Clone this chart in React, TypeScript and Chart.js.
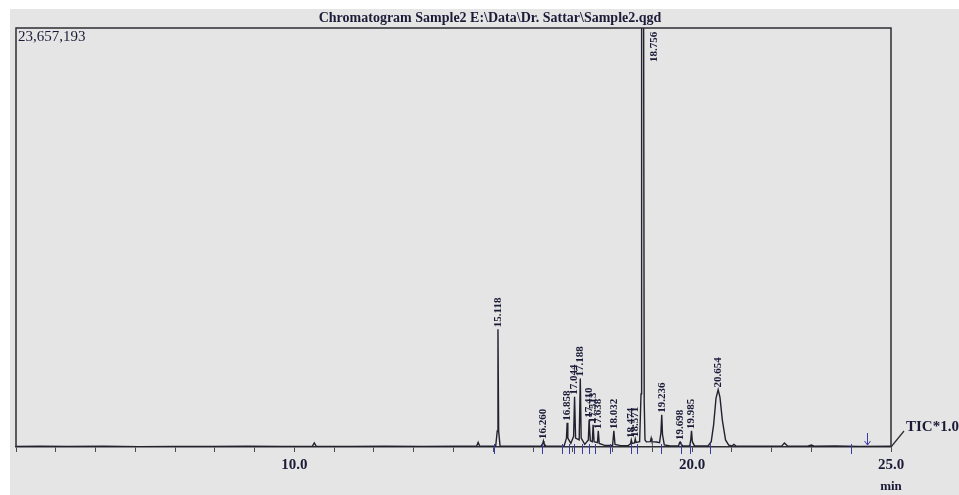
import React, { useEffect, useRef } from "react";
import { Chart, registerables } from "chart.js";

Chart.register(...registerables);

const FULL_SCALE = 23657193;
const TITLE = "Chromatogram Sample2 E:\\Data\\Dr. Sattar\\Sample2.qgd";
const SCALE_LABEL = "23,657,193";
const TRACE_NAME = "TIC*1.00";
const X_UNIT = "min";

// retention time (min) of each point of the TIC trace
const traceTimes = [
  3.0, 3.6, 4.3, 5.2, 6.1, 7.0, 7.9, 8.8, 9.7, 10.45, 10.5, 10.55, 11.4, 12.3, 13.2, 14.1,
  14.58, 14.62, 14.66, 15.06, 15.1, 15.118, 15.135, 15.17, 15.6, 16.2, 16.245, 16.26, 16.275,
  16.32, 16.78, 16.84, 16.858, 16.875, 16.95, 17.02, 17.044, 17.07, 17.16, 17.188, 17.21,
  17.3, 17.39, 17.41, 17.44, 17.49, 17.51, 17.535, 17.62, 17.64, 17.665, 17.8, 18.0, 18.032,
  18.06, 18.2, 18.4, 18.45, 18.47, 18.49, 18.55, 18.57, 18.59, 18.68, 18.715, 18.73, 18.756,
  18.78, 18.795, 18.815, 18.85, 18.95, 18.97, 18.99, 19.1, 19.18, 19.215, 19.236, 19.255, 19.3,
  19.45, 19.66, 19.685, 19.698, 19.715, 19.76, 19.94, 19.965, 19.985, 20.005, 20.06, 20.4,
  20.48, 20.54, 20.6, 20.654, 20.7, 20.76, 20.84, 20.92, 21.0, 21.05, 21.1, 21.8, 22.25,
  22.32, 22.4, 22.9, 23.0, 23.08, 23.6, 24.2, 25.0,
];

// TIC intensity (counts) at each point above
const traceCounts = [
  30000, 45000, 25000, 40000, 20000, 35000, 25000, 40000, 30000, 35000, 230000, 40000, 30000,
  45000, 30000, 40000, 40000, 260000, 45000, 45000, 900000, 6650000, 900000, 60000, 45000,
  45000, 200000, 340000, 200000, 50000, 60000, 500000, 1365000, 500000, 200000, 600000,
  2840000, 500000, 400000, 3870000, 500000, 150000, 400000, 1535000, 350000, 300000, 1250000,
  300000, 250000, 910000, 200000, 90000, 100000, 910000, 150000, 80000, 90000, 180000, 398000,
  200000, 230000, 455000, 260000, 300000, 3000000, 24500000, 24800000, 24500000, 2500000,
  400000, 290000, 300000, 500000, 300000, 280000, 250000, 800000, 1820000, 700000, 120000,
  60000, 70000, 250000, 284000, 200000, 60000, 70000, 400000, 910000, 300000, 60000, 60000,
  300000, 1250000, 2750000, 3240000, 2800000, 1500000, 400000, 110000, 60000, 150000, 50000,
  45000, 50000, 220000, 50000, 45000, 110000, 40000, 60000, 35000, 40000,
];

// labelled peaks
const peakTimes = [
  15.118, 16.26, 16.858, 17.044, 17.188, 17.41, 17.513, 17.638, 18.032, 18.474, 18.571,
  18.756, 19.236, 19.698, 19.985, 20.654,
];
const peakLabels = [
  "15.118", "16.260", "16.858", "17.044", "17.188", "17.410", "17.513", "17.638", "18.032",
  "18.474", "18.571", "18.756", "19.236", "19.698", "19.985", "20.654",
];
const peakCounts = [
  6650000, 340000, 1365000, 2840000, 3870000, 1535000, 1250000, 910000, 910000, 398000,
  455000, 24800000, 1820000, 284000, 910000, 3240000,
];

// integration markers under the baseline
const markerTimes = [
  15.03, 16.23, 16.73, 16.9, 17.03, 17.24, 17.41, 17.56, 17.94, 18.47, 18.62, 19.22, 19.72,
  19.95, 20.45, 24.0,
];
const arrowTimes = [24.4];

// x tick values that carry a label
const xLabelTicks = [10, 20, 25];

const SERIF = '"Liberation Serif", "DejaVu Serif", serif';
const INK = "#1b1b38";

const overlayPlugin = {
  id: "chromOverlay",
  beforeDraw(chart: any) {
    const { ctx, width, height } = chart;
    ctx.save();
    ctx.fillStyle = "#ffffff";
    ctx.fillRect(0, 0, width, height);
    ctx.fillStyle = "#e5e5e5";
    ctx.fillRect(10, 9, width - 10, height - 9);
    ctx.restore();
  },
  afterDatasetsDraw(chart: any) {
    const { ctx, chartArea: a } = chart;
    const xs = chart.scales.x;
    const ys = chart.scales.y;
    ctx.save();

    // frame (top, left, right)
    ctx.strokeStyle = "#2e2e33";
    ctx.lineWidth = 1.5;
    ctx.beginPath();
    ctx.moveTo(a.left, a.bottom);
    ctx.lineTo(a.left, a.top);
    ctx.lineTo(a.right, a.top);
    ctx.lineTo(a.right, a.bottom);
    ctx.stroke();

    // integration markers
    ctx.strokeStyle = "#3b3ba8";
    ctx.lineWidth = 1;
    markerTimes.forEach((t) => {
      const px = Math.round(xs.getPixelForValue(t)) + 0.5;
      ctx.beginPath();
      ctx.moveTo(px, a.bottom - 3);
      ctx.lineTo(px, a.bottom + 7);
      ctx.stroke();
    });
    arrowTimes.forEach((t) => {
      const px = Math.round(xs.getPixelForValue(t)) + 0.5;
      ctx.beginPath();
      ctx.moveTo(px, a.bottom - 14);
      ctx.lineTo(px, a.bottom - 2);
      ctx.moveTo(px - 3, a.bottom - 6);
      ctx.lineTo(px, a.bottom - 2);
      ctx.lineTo(px + 3, a.bottom - 6);
      ctx.stroke();
    });

    // peak labels
    ctx.fillStyle = INK;
    ctx.font = `bold 11px ${SERIF}`;
    ctx.textAlign = "left";
    ctx.textBaseline = "middle";
    peakTimes.forEach((t, i) => {
      const px = xs.getPixelForValue(t);
      const py = ys.getPixelForValue(peakCounts[i]);
      ctx.save();
      if (py <= a.top + 1) {
        ctx.translate(px + 11, a.top + 34);
      } else {
        ctx.translate(px, py - 2);
      }
      ctx.rotate(-Math.PI / 2);
      ctx.fillText(peakLabels[i], 0, 0);
      ctx.restore();
    });

    // scale label
    ctx.font = `15px ${SERIF}`;
    ctx.textBaseline = "alphabetic";
    ctx.textAlign = "left";
    ctx.fillText(SCALE_LABEL, a.left + 2, a.top + 13);

    // title
    ctx.font = `bold 14px ${SERIF}`;
    ctx.textAlign = "center";
    ctx.fillText(TITLE, 490, 22);

    // trace name with leader
    ctx.strokeStyle = "#2e2e33";
    ctx.lineWidth = 1.2;
    ctx.beginPath();
    ctx.moveTo(a.right, a.bottom);
    ctx.lineTo(a.right + 13, a.bottom - 16);
    ctx.stroke();
    ctx.font = `bold 15px ${SERIF}`;
    ctx.textAlign = "left";
    ctx.textBaseline = "middle";
    ctx.fillText(TRACE_NAME, a.right + 15, a.bottom - 20);

    // unit
    ctx.font = `bold 13px ${SERIF}`;
    ctx.textAlign = "center";
    ctx.fillText(X_UNIT, xs.getPixelForValue(25), a.bottom + 40);
    ctx.restore();
  },
};

export default function App() {
  const ref = useRef<HTMLCanvasElement | null>(null);
  useEffect(() => {
    if (!ref.current) return;
    const chart = new Chart(ref.current, {
      type: "line",
      data: {
        datasets: [
          {
            label: TRACE_NAME,
            data: traceTimes.map((t, i) => ({ x: t, y: traceCounts[i] })),
            borderColor: "#22222e",
            borderWidth: 1.4,
            pointRadius: 0,
            tension: 0,
          },
        ],
      },
      options: {
        animation: false,
        responsive: false,
        devicePixelRatio: 1,
        layout: { padding: { left: 16, right: 68, top: 28, bottom: 0 } },
        plugins: { legend: { display: false }, tooltip: { enabled: false }, title: { display: false } },
        scales: {
          x: {
            type: "linear",
            min: 3,
            max: 25,
            afterFit: (s: any) => {
              s.height = 48;
            },
            ticks: {
              stepSize: 1,
              autoSkip: false,
              maxRotation: 0,
              padding: 4,
              color: INK,
              font: { family: SERIF, size: 15, weight: "bold" },
              callback: (v: any) => (xLabelTicks.includes(Number(v)) ? Number(v).toFixed(1) : ""),
            },
            grid: { drawOnChartArea: false, drawTicks: true, tickLength: 5, color: "#4a4a55", lineWidth: 1 },
            border: { display: true, color: "#2e2e33", width: 1.5 },
          },
          y: {
            display: false,
            min: 0,
            max: FULL_SCALE,
          },
        },
      },
      plugins: [overlayPlugin],
    });
    return () => chart.destroy();
  }, []);
  return (
    <div style={{ position: "fixed", left: 0, top: 0, width: 959, height: 495 }}>
      <canvas ref={ref} width={959} height={495} style={{ display: "block" }} />
    </div>
  );
}
